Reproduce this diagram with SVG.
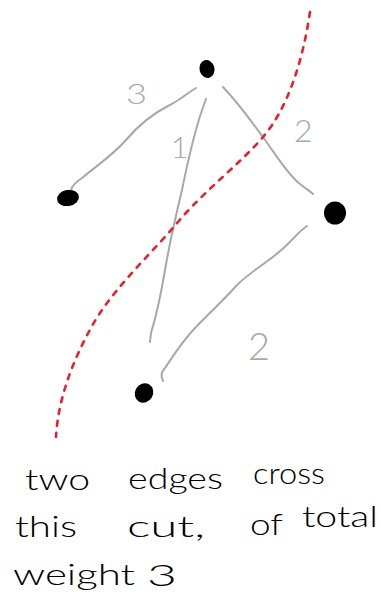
<svg xmlns="http://www.w3.org/2000/svg" width="381" height="608" viewBox="0 0 381 608">
<style>
.edge{fill:none;stroke:#a8a8a8;stroke-width:2;stroke-linecap:round;stroke-linejoin:round}
.cut{fill:none;stroke:#e8202a;stroke-width:2.6;stroke-dasharray:5 7;stroke-linecap:round}
.node{fill:#000}
.w{font-family:Lato,"Liberation Sans",Arial,sans-serif;font-weight:300;fill:#a8a8a8}
.note{font-family:Lato,"Liberation Sans",Arial,sans-serif;font-weight:300;font-size:30px;fill:#000}
</style>
<rect width="381" height="608" fill="#fff"/>
<g id="connectors">
<path class="edge" d="M196,88 C186,94 180,100 168,106 C150,115 138,126 126,140 C112,156 96,166 82,178 C76,182 72,186 71,190"/>
<path class="edge" d="M206,99 C196,125 188,160 182,190 C176,215 170,240 165,270 C160,300 155,320 151,333 L150,342"/>
<path class="edge" d="M223,87 C240,105 252,122 265,140 C276,155 288,175 300,184 C306,189 310,191 313,194"/>
<path class="edge" d="M307,226 C298,232 290,243 280,251 C268,262 250,272 237,285 C222,302 210,312 195,328 C180,344 172,358 165,368 C161,372 161,377 163,381"/>
</g>
<g id="cut">
<path class="cut" d="M310,12 C303,60 288,108 263,137 C240,164 205,190 178,222 C150,255 112,290 92,326 C72,362 58,400 56,437"/>
</g>
<g id="node-top"><ellipse class="node" cx="207" cy="69" rx="7.5" ry="9" transform="rotate(-15 207 69)"/></g>
<g id="node-left"><ellipse class="node" cx="68" cy="198" rx="11" ry="8" transform="rotate(-10 68 198)"/></g>
<g id="node-right"><ellipse class="node" cx="335" cy="213" rx="11" ry="11.5"/></g>
<g id="node-bottom"><ellipse class="node" cx="144" cy="393" rx="9" ry="10" transform="rotate(30 144 393)"/></g>
<g id="labels">
<text class="w" x="126" y="104" font-size="27" textLength="21" lengthAdjust="spacingAndGlyphs">3</text>
<text class="w" x="171" y="158" font-size="30">1</text>
<text class="w" x="294" y="142" font-size="32">2</text>
<text class="w" x="248" y="360" font-size="38">2</text>
</g>
<g id="note">
<text class="note" x="25" y="490" textLength="65" lengthAdjust="spacingAndGlyphs">two</text>
<text class="note" x="128" y="489" textLength="95" lengthAdjust="spacingAndGlyphs">edges</text>
<text class="note" x="253" y="484" textLength="72" lengthAdjust="spacingAndGlyphs">cross</text>
<text class="note" x="15" y="537" textLength="62" lengthAdjust="spacingAndGlyphs">this</text>
<text class="note" x="127" y="537" textLength="78" lengthAdjust="spacingAndGlyphs">cut,</text>
<text class="note" x="250" y="535" textLength="33" lengthAdjust="spacingAndGlyphs">of</text>
<text class="note" x="302" y="527" textLength="76" lengthAdjust="spacingAndGlyphs">total</text>
<text class="note" x="13" y="585" textLength="122" lengthAdjust="spacingAndGlyphs">weight</text>
<text class="note" x="147" y="586" font-size="40" textLength="30" lengthAdjust="spacingAndGlyphs">3</text>
</g>
</svg>
